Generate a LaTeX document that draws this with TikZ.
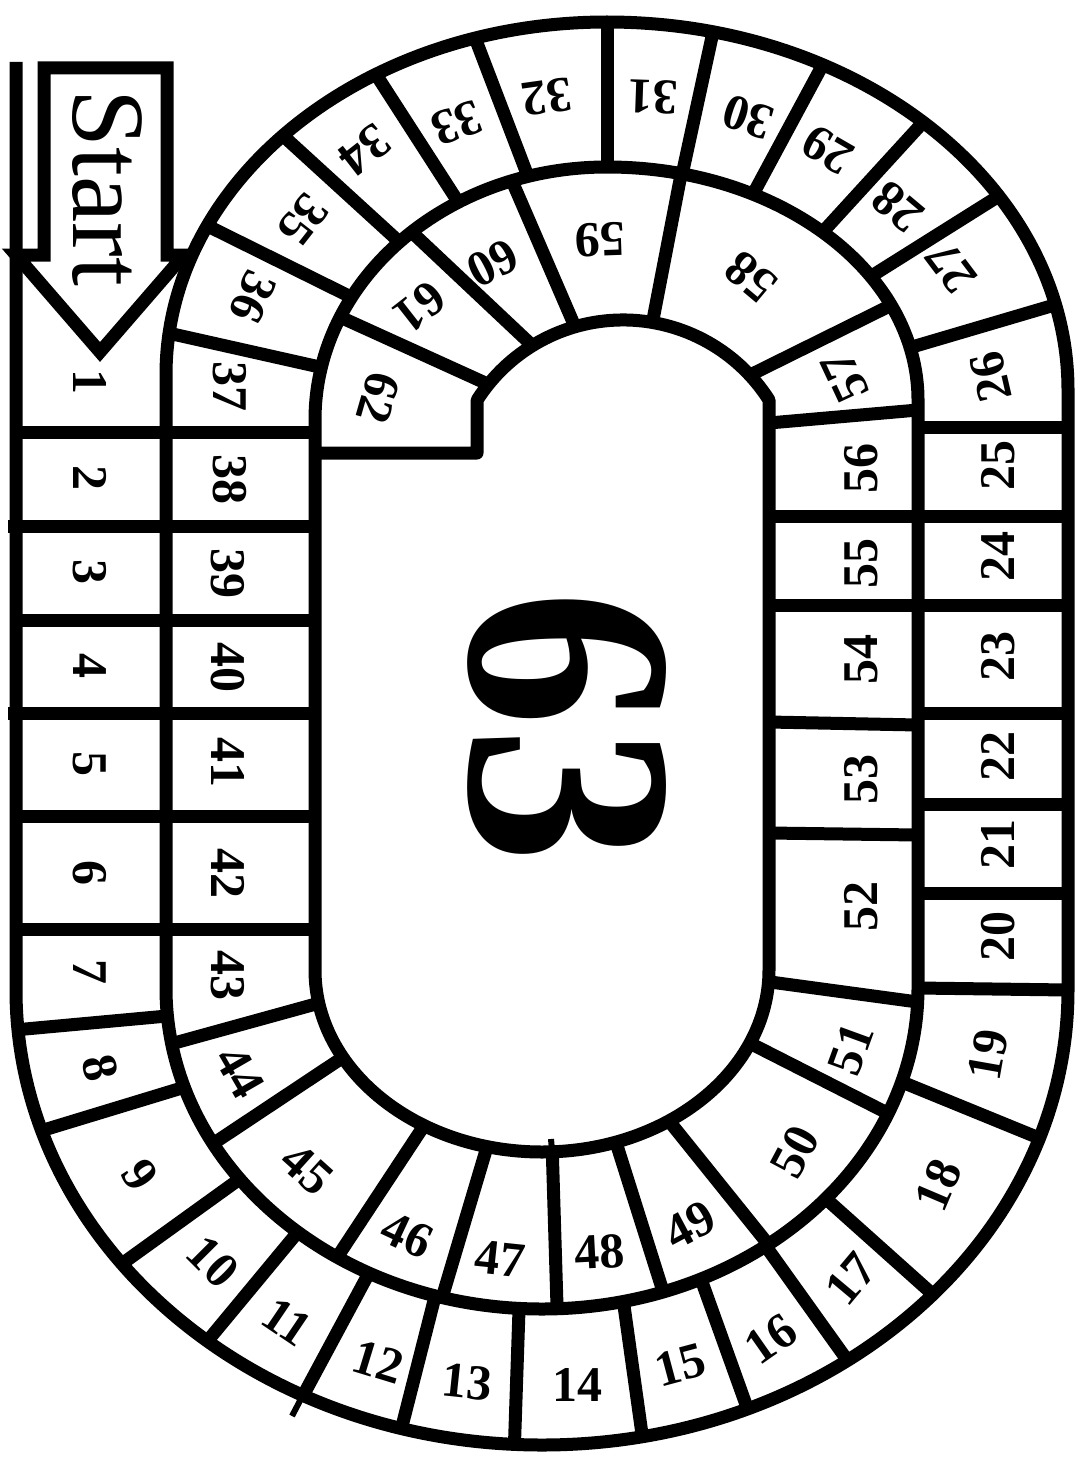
\documentclass[tikz,border=0pt]{standalone}
\usepackage{fontspec}
\setmainfont{Liberation Serif}
\usepackage{graphicx}
\begin{document}
\begin{tikzpicture}[x=1pt,y=-1pt,
  wall/.style={line width=13pt,line join=round},
  divider/.style={line width=13pt},
  tick/.style={line width=6pt},
  arrowbox/.style={line width=13pt,line join=miter,fill=white},
  num/.style={font=\bfseries\fontsize{50}{50}\selectfont,inner sep=0pt},
]
\useasboundingbox (0,0) rectangle (1078,1458);
\fill[white] (0,0) rectangle (1078,1458);

% start arrow
\draw[arrowbox] (44,68) -- (167,68) -- (167,255) -- (184,255) -- (100,352) -- (16,255) -- (44,255) -- cycle;

% outer ring, bottom dividers
\foreach \a/\b in {175/175,162/162,143/143.5,129.5/130.5,117/117.4,105.5/106.5,93/93.5,79/77.5,67/65,54.5/53.5,42/41,19/17}
  \draw[divider] ({542+526*cos(\a)},{990+455*sin(\a)}) -- ({542+376*cos(\b)},{988+321*sin(\b)});
% inner ring, bottom dividers
\foreach \a/\b in {170/169.5,151/151.3,123/121.3,105.4/104,87.7/87.4,71.2/71,53/56,23/23.7,2.5/3.7}
  \draw[divider] ({542+376*cos(\a)},{988+321*sin(\a)}) -- ({542+227*cos(\b)},{970+182*sin(\b)});
% outer ring, top dividers (left half)
\foreach \a/\b in {186.8/192,205/209,222.7/224.7,238.4/239.4,252.6/254.3}
  \draw[divider] ({607+441*cos(\a)},{375+353*sin(\a)}) -- ({607+292*cos(\b)},{420+253*sin(\b)});
% outer ring, top dividers (right half)
\foreach \a/\b in {270/270,283.3/284,297.9/298,313.3/313.9,328.2/328,346.6/347}
  \draw[divider] ({607+461*cos(\a)},{390+368*sin(\a)}) -- ({607+311*cos(\b)},{400+233*sin(\b)});
% inner ring, top dividers
\foreach \a/\b in {204/218.9,228/238.4,251/253.9}
  \draw[divider] ({607+292*cos(\a)},{420+253*sin(\a)}) -- ({623+173*cos(\b)},{493+173*sin(\b)});
\foreach \a/\b in {283.8/279.8,336/317.1}
  \draw[divider] ({607+311*cos(\a)},{400+233*sin(\a)}) -- ({623+173*cos(\b)},{493+173*sin(\b)});

% straight dividers, left
\draw[divider] (16,432) -- (315,432);
\draw[divider] (8,526) -- (315,526);
\draw[divider] (16,620) -- (315,620);
\draw[divider] (8,713) -- (315,713);
\draw[divider] (16,816) -- (315,816);
\draw[divider] (16,929) -- (315,929);
% straight dividers, right
\draw[divider] (918,427) -- (1068,427);
\draw[divider] (769,516) -- (1068,516);
\draw[divider] (769,423) -- (918,410);
\draw[divider] (769,605) -- (1068,605);
\draw[divider] (918,713) -- (1068,713);
\draw[divider] (769,722) -- (918,725);
\draw[divider] (918,804) -- (1068,804);
\draw[divider] (769,833) -- (918,835);
\draw[divider] (918,893) -- (1068,893);
\draw[divider] (918,988) -- (1068,990);

% small ticks
\draw[tick] (303,1395) -- (292,1416);
\draw[tick] (552,1150) -- (551,1139);

% spiral wall
\draw[wall] (16,62) -- (16,990)
  arc[start angle=180,end angle=0,x radius=526,y radius=455]
  -- (1068,390)
  arc[start angle=0,end angle=-90,x radius=461,y radius=368]
  arc[start angle=-90,end angle=-180,x radius=441,y radius=353]
  -- (166,988)
  arc[start angle=180,end angle=0,x radius=376,y radius=321]
  -- (918,400)
  arc[start angle=0,end angle=-90,x radius=311,y radius=233]
  arc[start angle=-90,end angle=-180,x radius=292,y radius=253]
  -- (315,970)
  arc[start angle=180,end angle=0,x radius=227,y radius=182]
  -- (769,400)
  arc[start angle=-32.5,end angle=-147.5,radius=173]
  -- (477,453) -- (315,453);

% labels
\foreach \n/\x/\y/\r in {
  1/90/382/-90, 2/90/478/-90, 3/90/572/-90, 4/90/666/-90, 5/90/764/-90, 6/90/873/-90, 7/90/972/-90,
  8/100/1068/-77, 9/140/1175/-57, 10/213/1262/-45, 11/287/1322/-34, 12/378/1362/-17, 13/467/1382/-6,
  14/577/1385/0, 15/680/1365/15, 16/771/1339/35, 17/851/1279/50, 18/938/1185/67, 19/988/1055/80,
  20/998/936/90, 21/998/844/90, 22/998/756/90, 23/998/656/90, 24/998/556/90, 25/998/465/90,
  26/991/377/103, 27/951/267/127, 28/898/207/140, 29/828/150/150, 30/748/117/162, 31/653/97/178,
  32/547/97/188, 33/457/123/200, 34/365/150/218, 35/303/220/232, 36/253/297/245,
  37/230/386/-90, 38/230/479/-90, 39/228/573/-90, 40/228/667/-90, 41/228/762/-90, 42/228/873/-90, 43/228/975/-90,
  44/240/1072/-60, 45/307/1169/-42, 46/407/1235/-25, 47/500/1259/-6, 48/600/1252/3, 49/690/1225/28,
  50/795/1152/62, 51/851/1049/70,
  52/861/906/90, 53/861/779/90, 54/861/659/90, 55/861/563/90, 56/861/468/90,
  57/845/377/115, 58/751/277/140, 59/600/240/182, 60/493/263/207, 61/420/307/218, 62/378/398/254}
  \node[num,rotate=\r] (c\n) at (\x,\y) {\n};

\node[rotate=-90,inner sep=0pt,font=\fontsize{104}{104}\selectfont] (start) at (107,188) {Start};
\node[rotate=-90,inner sep=0pt,font=\bfseries\fontsize{296}{296}\selectfont] (goal) at (567,727) {\scalebox{0.92}[1]{63}};
\end{tikzpicture}
\end{document}
